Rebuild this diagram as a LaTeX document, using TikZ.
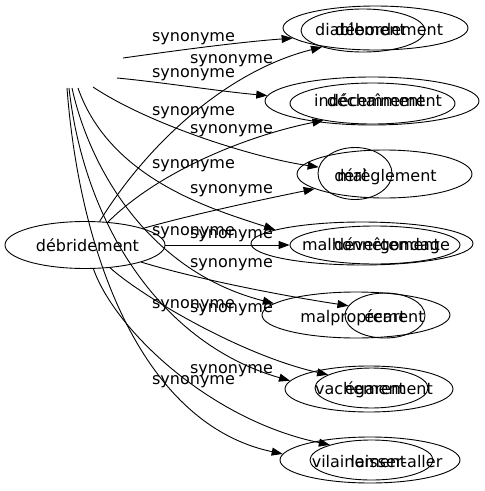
\documentclass[tikz,border=0pt]{standalone}
\usepackage{fontspec}
\setmainfont{DejaVu Sans}
\usetikzlibrary{shapes.geometric,arrows.meta}
\begin{document}
\begin{tikzpicture}[x=1pt,y=-1pt,
  oval/.style={draw,ellipse,inner sep=0pt,line width=0.9pt},
  word/.style={inner sep=0pt,anchor=base,font=\fontsize{16}{19}\selectfont},
  lab/.style={inner sep=0pt,anchor=base,font=\fontsize{16}{19}\selectfont},
  syn/.style={line width=0.9pt,-{Triangle[length=11pt,width=8pt]}}]
\useasboundingbox (0,0) rectangle (485,491);
% source
\node[oval,minimum width=160pt,minimum height=47pt,font=\fontsize{16}{19}\selectfont] (src) at (85,245) {\hspace*{5pt}débridement};
% invisible second source: free ends
\coordinate (bs1) at (123,58);
\coordinate (bs2) at (117,78);
\coordinate (bs3) at (93,87);
\coordinate (bs4) at (78,88);
\coordinate (bs5) at (72,88);
\coordinate (bs6) at (69,88);
\coordinate (bs7) at (67,88);
% ellipses
\node[oval,minimum width=185pt,minimum height=44pt] (r1o) at (375.5,28) {};
\node[oval,minimum width=124pt,minimum height=43pt] (r1i) at (363,30.5) {};
\node[oval,minimum width=214pt,minimum height=48pt] (r2o) at (372,101) {};
\node[oval,minimum width=165pt,minimum height=41pt] (r2i) at (372.5,103.5) {};
\node[oval,minimum width=175pt,minimum height=48pt] (r3o) at (384.5,174) {};
\node[oval,minimum width=74pt,minimum height=52pt] (r3i) at (355,173.5) {};
\node[oval,minimum width=222pt,minimum height=43pt] (r4o) at (362,243.5) {};
\node[oval,minimum width=170pt,minimum height=38pt] (r4i) at (375,245) {};
\node[oval,minimum width=188pt,minimum height=46pt] (r5o) at (356,315) {};
\node[oval,minimum width=80pt,minimum height=45pt] (r5i) at (385,315.5) {};
\node[oval,minimum width=168pt,minimum height=46pt] (r6o) at (369,389) {};
\node[oval,minimum width=113pt,minimum height=40pt] (r6i) at (371.5,388) {};
\node[oval,minimum width=180pt,minimum height=46pt] (r7o) at (370,460) {};
\node[oval,minimum width=123pt,minimum height=40pt] (r7i) at (371.5,460) {};
% words
\node[word] (w1a) at (360.5,35) {diablement};
\node[word] (w1b) at (389,35) {débordement};
\node[word] (w2a) at (369.5,106) {indécemment};
\node[word] (w2b) at (384.5,106) {déchaînement};
\node[word] (w3a) at (385.5,181) {dérèglement};
\node[word] (w3b) at (352,181) {mal};
\node[word] (w4a) at (371,250) {malhonnêtement};
\node[word] (w4b) at (392,250) {dévergondage};
\node[word] (w5a) at (362.5,322) {malproprement};
\node[word] (w5b) at (385,322) {écart};
\node[word] (w6a) at (360,394) {vachement};
\node[word] (w6b) at (389,394) {égarement};
\node[word] (w7a) at (359,467) {vilainement};
\node[word] (w7b) at (396.5,467) {laisser-aller};
% edges of the hidden source
\draw[syn] (bs1) .. controls (180,50) and (240,42) .. (r1o.187);
\draw[syn] (bs2) .. controls (160,82) and (225,92) .. (r2o.177);
\draw[syn] (bs3) .. controls (150,125) and (255,158) .. (r3i.170);
\draw[syn] (bs4) .. controls (110,180) and (215,210) .. (r4o.171);
\draw[syn] (bs5) .. controls (90,170) and (150,272) .. (r5o.172);
\draw[syn] (bs6) .. controls (85,230) and (165,345) .. (r6o.174);
\draw[syn] (bs7) .. controls (80,260) and (145,425) .. (r7o.176);
% edges of débridement
\draw[syn] (src) .. controls (150,140) and (230,70) .. (r1i.202);
\draw[syn] (src) .. controls (160,170) and (250,135) .. (r2i.199);
\draw[syn] (src) .. controls (190,215) and (260,200) .. (r3o.192);
\draw[syn] (src) -- (r4i.180);
\draw[syn] (src) .. controls (200,280) and (290,297) .. (r5i.165);
\draw[syn] (src) .. controls (140,295) and (240,355) .. (r6i.163);
\draw[syn] (src) .. controls (115,330) and (210,420) .. (r7i.160);
% labels
\node[lab] (l1) at (193.5,41) {synonyme};
\node[lab] (l2) at (193.5,77) {synonyme};
\node[lab] (l3) at (193.5,115) {synonyme};
\node[lab] (l4) at (193.5,168) {synonyme};
\node[lab] (l5) at (193.5,235) {synonyme};
\node[lab] (l6) at (193.5,308) {synonyme};
\node[lab] (l7) at (193.5,384) {synonyme};
\node[lab] (m1) at (231.5,63) {synonyme};
\node[lab] (m2) at (231.5,133) {synonyme};
\node[lab] (m3) at (231.5,193) {synonyme};
\node[lab] (m4) at (231.5,238) {synonyme};
\node[lab] (m5) at (231.5,267) {synonyme};
\node[lab] (m6) at (231.5,312) {synonyme};
\node[lab] (m7) at (231.5,373) {synonyme};
\end{tikzpicture}
\end{document}
